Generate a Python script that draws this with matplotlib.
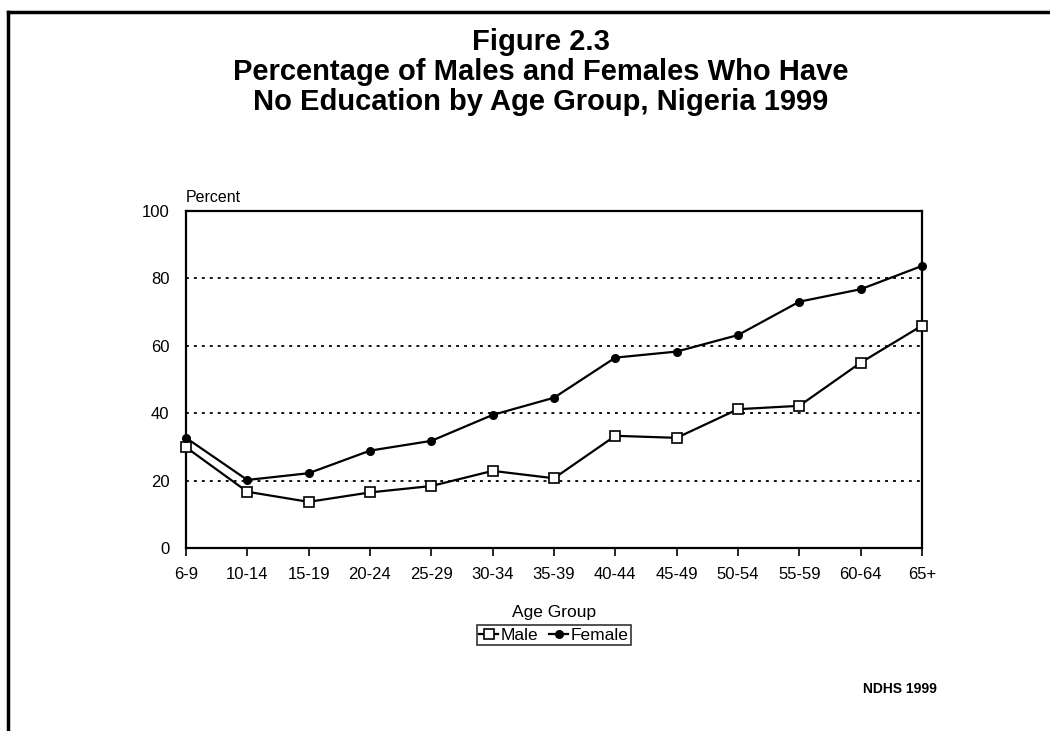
import matplotlib.pyplot as plt
from matplotlib.lines import Line2D

plt.rcParams['font.family'] = ['Liberation Sans', 'DejaVu Sans']

# Données
age_groups = ["6-9", "10-14", "15-19", "20-24", "25-29", "30-34", "35-39",
              "40-44", "45-49", "50-54", "55-59", "60-64", "65+"]
male = [29.9, 16.7, 13.7, 16.5, 18.4, 22.9, 20.7, 33.3, 32.7, 41.2, 42.2, 55.0, 66.0]
female = [32.7, 20.2, 22.2, 28.9, 31.8, 39.5, 44.6, 56.5, 58.3, 63.2, 73.1, 76.8, 83.7]
y_ticks = [0, 20, 40, 60, 80, 100]

fig = plt.figure(figsize=(10.5, 7.31), dpi=100)
ax = fig.add_axes([0.1771, 0.2503, 0.701, 0.461])

x = list(range(len(age_groups)))

# Lignes de grille pointillées
for yv in y_ticks[1:-1]:
    ax.axhline(yv, color="black", linestyle=(0, (1.6, 2.8)), linewidth=1.3, zorder=1)

ax.plot(x, male, color="black", linewidth=1.6, marker="s", markersize=7,
        markerfacecolor="white", markeredgecolor="black", markeredgewidth=1.2,
        label="Male", zorder=3, clip_on=False)
ax.plot(x, female, color="black", linewidth=1.6, marker="o", markersize=5.5,
        markerfacecolor="black", label="Female", zorder=4, clip_on=False)

ax.set_xlim(0, len(age_groups) - 1)
ax.set_ylim(0, 100)
ax.set_xticks(x)
ax.set_xticklabels(age_groups, fontsize=12)
ax.set_yticks(y_ticks)
ax.tick_params(axis="y", length=0, pad=12, labelsize=12)
ax.tick_params(axis="x", length=6, width=1.2, direction="out", pad=8)
for sp in ax.spines.values():
    sp.set_linewidth(1.6)

ax.text(0, 1.018, "Percent", transform=ax.transAxes, fontsize=11.5, ha="left", va="bottom")
ax.set_xlabel("Age Group", fontsize=12.5, labelpad=16)

leg = ax.legend(loc="upper center", bbox_to_anchor=(0.5, -0.228), ncol=2,
                fontsize=12.5, frameon=True, fancybox=False, handlelength=1.1,
                handletextpad=0.15, columnspacing=0.6, borderpad=0.15,
                borderaxespad=0)
leg.get_frame().set_edgecolor("black")
leg.get_frame().set_linewidth(1.2)

# Titre
fig.text(0.515, 0.943, "Figure 2.3", ha="center", va="center", fontsize=21, fontweight="bold")
fig.text(0.515, 0.902, "Percentage of Males and Females Who Have", ha="center", va="center",
         fontsize=21, fontweight="bold")
fig.text(0.515, 0.861, "No Education by Age Group, Nigeria 1999", ha="center", va="center",
         fontsize=21, fontweight="bold")

fig.text(0.857, 0.057, "NDHS 1999", ha="center", va="center", fontsize=10, fontweight="bold")

# Cadre de la page (gauche et haut)
fig.add_artist(Line2D([8 / 1050, 8 / 1050], [0, 1 - 12 / 731], color="black", linewidth=2.5))
fig.add_artist(Line2D([8 / 1050, 1], [1 - 12 / 731, 1 - 12 / 731], color="black", linewidth=2.5))

fig.savefig("out.png", dpi=100)
